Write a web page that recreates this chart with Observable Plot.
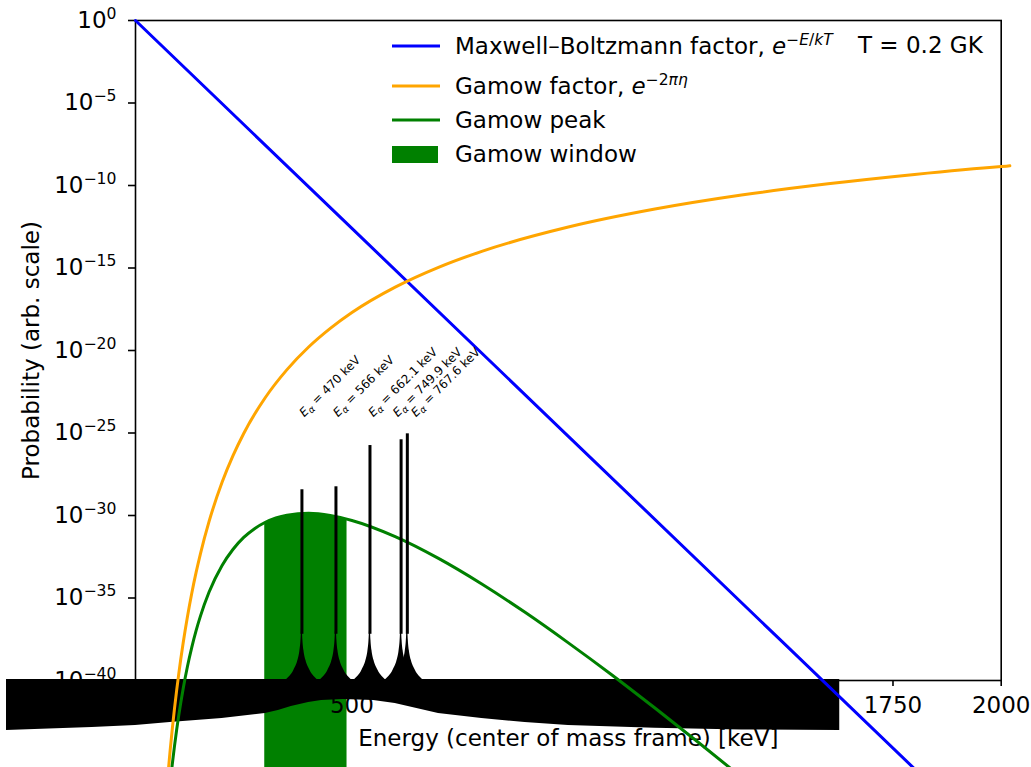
<!DOCTYPE html>
<html><head><meta charset="utf-8">
<script src="https://cdn.jsdelivr.net/npm/d3@7"></script>
<script src="https://cdn.jsdelivr.net/npm/@observablehq/plot@0.6"></script>
<style>
html,body{margin:0;padding:0;background:#fff;}
#chart{width:1031px;height:767px;overflow:hidden;position:relative;}
</style></head><body><div id="chart"></div>
<script>
// Energies in keV (centre-of-mass frame); probabilities stored as log10 values
const energyMB = [0, 500, 1000, 1500, 2000];
const log10MB = [0, -12.60, -25.20, -37.80, -50.40];

const energyGamow = [70, 75, 80, 85, 90, 95, 100, 110, 120, 130, 140, 150, 170, 200, 225, 250, 300, 350, 400, 450, 500, 600, 700, 800, 1000, 1200, 1400, 1600, 1800, 2000, 2020];
const log10Gamow = [-47.31, -45.70, -44.25, -42.93, -41.72, -40.61, -39.58, -37.74, -36.13, -34.71, -33.45, -32.32, -30.36, -27.99, -26.39, -25.03, -22.85, -21.16, -19.79, -18.66, -17.70, -16.16, -14.96, -13.99, -12.52, -11.43, -10.58, -9.90, -9.33, -8.85, -8.81];

const energyPeak = [70, 75, 80, 85, 90, 95, 100, 110, 120, 130, 140, 150, 170, 200, 225, 250, 275, 300, 350, 400, 450, 500, 600, 700, 800, 900, 1000, 1100, 1200, 1300, 1400, 1500];
const log10Peak = [-49.07, -47.59, -46.27, -45.07, -43.99, -43.00, -42.10, -40.51, -39.15, -37.99, -36.98, -36.10, -34.64, -33.03, -32.06, -31.33, -30.80, -30.41, -29.98, -29.87, -30.00, -30.30, -31.28, -32.60, -34.15, -35.87, -37.72, -39.65, -41.67, -43.74, -45.86, -48.02];

const energyWindow = [298.6, 320, 350, 393.6, 420, 450, 488.7];
const log10Window = [-30.43, -30.19, -29.98, -29.87, -29.90, -30.00, -30.22];

const alphaEnergy = [470, 566, 662.1, 749.9, 767.6];
const resonanceEnergy = [384.5, 463.1, 541.7, 613.6, 628.0];
const resonanceLog10 = [-28.44, -28.26, -25.76, -25.41, -25.05];
const labelEnergy = [390, 468, 549, 606, 648];
const labelLog10 = -24.06;
const cuspOffset = [0, 1.15, 2.3, 4.6, 9.2, 18.5, 36.9, 46];
const cuspLog10 = [-36.4, -36.98, -37.58, -38.18, -38.78, -39.38, -39.98, -40.18];

const bandEnergy = [-298, -200, -100, 0, 80, 200, 300, 330, 360, 400, 430, 480, 550, 600, 700, 800, 900, 1000, 1200, 1400, 1627];
const bandLowLog10 = [-43.03, -42.94, -42.85, -42.73, -42.55, -42.30, -42.00, -41.82, -41.58, -41.33, -41.21, -41.15, -41.21, -41.39, -42.00, -42.30, -42.55, -42.73, -42.90, -43.00, -43.03];
const bandTopLog10 = -39.94;

const xTicks = [0, 250, 500, 750, 1000, 1250, 1500, 1750, 2000];
const yTickExponents = [0, -5, -10, -15, -20, -25, -30, -35, -40];

const legendLabels = ["Maxwell–Boltzmann factor, ", "Gamow factor, ", "Gamow peak", "Gamow window"];
const temperatureLabel = "T = 0.2 GK";
const xLabel = "Energy (center of mass frame) [keV]";
const yLabel = "Probability (arb. scale)";

// ---- build tables ----
const pts = (E, L) => E.map((e, i) => ({E: e, p: 10 ** L[i]}));
const mb = pts(energyMB, log10MB);
const gam = pts(energyGamow, log10Gamow);
const peak = pts(energyPeak, log10Peak);
const win = pts(energyWindow, log10Window);
const band = bandEnergy.map((e, i) => ({E: e, lo: 10 ** bandLowLog10[i]}));
const res = resonanceEnergy.map((e, i) => ({E: e, p: 10 ** resonanceLog10[i], alpha: alphaEnergy[i], labelE: labelEnergy[i]}));
const cusps = [];
resonanceEnergy.forEach((er, r) => {
  for (let k = cuspOffset.length - 1; k >= 0; k--) cusps.push({r, E: er - cuspOffset[k], p: 10 ** cuspLog10[k]});
  for (let k = 1; k < cuspOffset.length; k++) cusps.push({r, E: er + cuspOffset[k], p: 10 ** cuspLog10[k]});
});

const BLUE = "#0000ff", ORANGE = "#ffa500", GREEN = "#008000";
const FS = 23;

const plot = Plot.plot({
  width: 1031, height: 767,
  marginLeft: 135, marginRight: 30.3, marginTop: 20, marginBottom: 87,
  style: {fontFamily: "'DejaVu Sans', sans-serif", fontSize: FS + "px", background: "white", color: "black", overflow: "visible"},
  x: {domain: [0, 2000]},
  y: {type: "log", domain: [1e-40, 1]},
  marks: [
    Plot.areaY(win, {x: "E", y1: 1e-50, y2: "p", fill: GREEN}),
    Plot.axisX({ticks: xTicks, tickFormat: "d", tickSize: 6, tickPadding: 10, strokeWidth: 1.6,
      label: xLabel, labelAnchor: "center", labelArrow: "none", labelOffset: 65}),
    Plot.axisY({ticks: yTickExponents.map(e => 10 ** e), tickFormat: d => String(Math.round(Math.log10(d))),
      tickSize: 7, tickPadding: 12, strokeWidth: 1.6,
      label: yLabel, labelAnchor: "center", labelArrow: "none", labelOffset: 113}),
    Plot.frame({stroke: "black", strokeWidth: 1.6}),
    Plot.areaY(band, {x: "E", y1: "lo", y2: 10 ** bandTopLog10, fill: "black"}),
    Plot.lineY(mb, {x: "E", y: "p", stroke: BLUE, strokeWidth: 3}),
    Plot.lineY(gam, {x: "E", y: "p", stroke: ORANGE, strokeWidth: 3, curve: "monotone-x"}),
    Plot.lineY(peak, {x: "E", y: "p", stroke: GREEN, strokeWidth: 3, curve: "monotone-x"}),
    Plot.areaY(cusps, {x: "E", y1: 10 ** -40.2, y2: "p", z: "r", fill: "black", curve: "monotone-x"}),
    Plot.ruleX(res, {x: "E", y1: 10 ** -37.2, y2: "p", stroke: "black", strokeWidth: 3}),
    Plot.text(res, {x: "labelE", y: 10 ** labelLog10, text: d => String(d.alpha), rotate: -45,
      textAnchor: "start", lineAnchor: "bottom", fontSize: 12})
  ]
});

document.getElementById("chart").appendChild(plot);
const svg = d3.select(plot);

// y tick labels as powers of ten
svg.selectAll('g[aria-label="y-axis tick label"] text').each(function () {
  const e = +this.textContent;
  const t = d3.select(this);
  t.text(null);
  t.append("tspan").text("10");
  t.append("tspan").attr("font-size", "68%").attr("dy", -9).text(e === 0 ? "0" : "−" + Math.abs(e));
});

// resonance labels with E_alpha
svg.selectAll('g[aria-label="text"] text').each(function () {
  const v = this.textContent;
  const t = d3.select(this);
  t.text(null);
  t.append("tspan").attr("font-style", "italic").text("E");
  t.append("tspan").attr("font-style", "italic").attr("font-size", "78%").attr("dy", 2.5).text("α");
  t.append("tspan").attr("dy", -2.5).text(" = " + v + " keV");
});

// legend
const lg = svg.append("g").attr("font-family", "'DejaVu Sans', sans-serif").attr("font-size", FS)
  .attr("fill", "black").attr("text-anchor", "start");
const rowsY = [46, 86, 120, 154];
const colors = [BLUE, ORANGE, GREEN];
colors.forEach((c, i) => lg.append("line").attr("x1", 392).attr("x2", 440).attr("y1", rowsY[i]).attr("y2", rowsY[i]).attr("stroke", c).attr("stroke-width", 3));
lg.append("rect").attr("x", 392).attr("y", 146).attr("width", 46).attr("height", 17).attr("fill", GREEN);
const SUP = 15.5;
const t1 = lg.append("text").attr("x", 455).attr("y", rowsY[0] + 8);
t1.append("tspan").text(legendLabels[0]);
t1.append("tspan").attr("font-style", "italic").text("e");
t1.append("tspan").attr("font-size", SUP).attr("dy", -9).text("−");
t1.append("tspan").attr("font-size", SUP).attr("font-style", "italic").text("E");
t1.append("tspan").attr("font-size", SUP).text("/");
t1.append("tspan").attr("font-size", SUP).attr("font-style", "italic").text("kT");
const t2 = lg.append("text").attr("x", 455).attr("y", rowsY[1] + 8);
t2.append("tspan").text(legendLabels[1]);
t2.append("tspan").attr("font-style", "italic").text("e");
t2.append("tspan").attr("font-size", SUP).attr("dy", -9).text("−2");
t2.append("tspan").attr("font-size", SUP).attr("font-style", "italic").text("πη");
lg.append("text").attr("x", 455).attr("y", rowsY[2] + 8).text(legendLabels[2]);
lg.append("text").attr("x", 455).attr("y", rowsY[3] + 8).text(legendLabels[3]);
lg.append("text").attr("x", 858).attr("y", 53).text(temperatureLabel);
</script></body></html>
